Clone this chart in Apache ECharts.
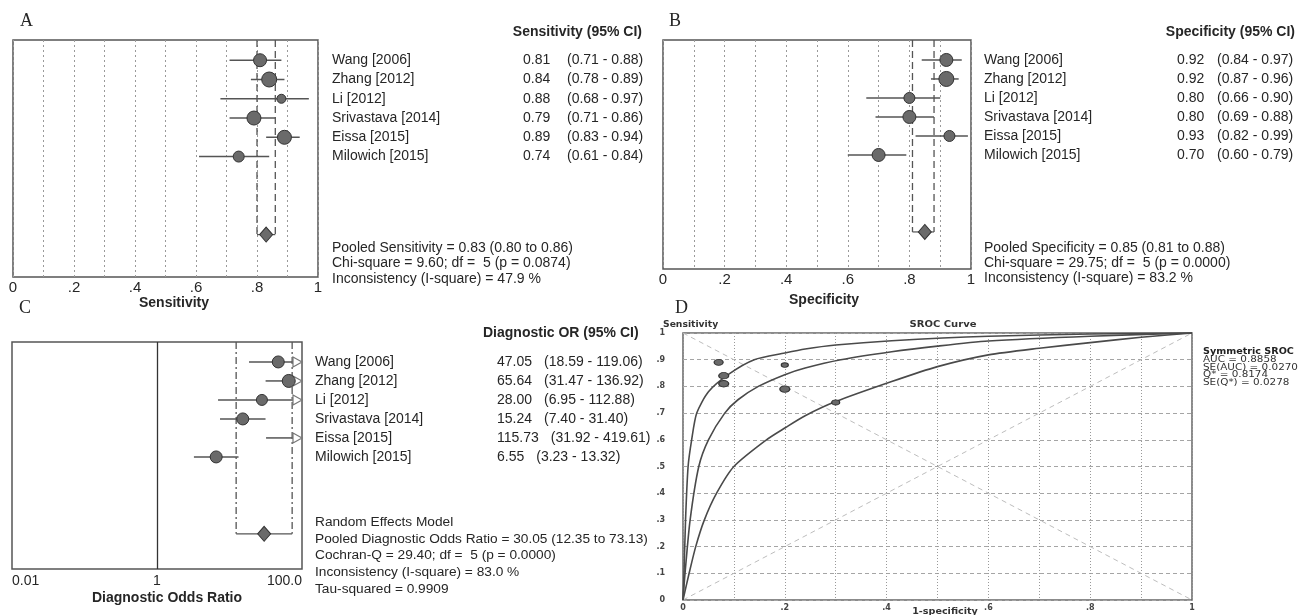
<!DOCTYPE html>
<html>
<head>
<meta charset="utf-8">
<script src="https://cdn.jsdelivr.net/npm/echarts@6/dist/echarts.min.js"></script>
<style>
  html, body { margin: 0; padding: 0; background: #fff; }
  #chart { width: 1307px; height: 615px; }
</style>
</head>
<body>
<div id="chart"></div>
<script>
// ---- data ----
const studies = ['Wang [2006]', 'Zhang [2012]', 'Li [2012]', 'Srivastava [2014]', 'Eissa [2015]', 'Milowich [2015]']

const sens = [0.81, 0.84, 0.88, 0.79, 0.89, 0.74]
const sensLo = [0.71, 0.78, 0.68, 0.71, 0.83, 0.61]
const sensHi = [0.88, 0.89, 0.97, 0.86, 0.94, 0.84]
const sensWeight = [13, 15, 9, 14, 14, 11]
const pooledSens = [0.83, 0.80, 0.86]

const spec = [0.92, 0.92, 0.80, 0.80, 0.93, 0.70]
const specLo = [0.84, 0.87, 0.66, 0.69, 0.82, 0.60]
const specHi = [0.97, 0.96, 0.90, 0.88, 0.99, 0.79]
const specWeight = [13, 15, 11, 13, 11, 13]
const pooledSpec = [0.85, 0.81, 0.88]

const dor = [47.05, 65.64, 28.00, 15.24, 115.73, 6.55]
const dorLo = [18.59, 31.47, 6.95, 7.40, 31.92, 3.23]
const dorHi = [119.06, 136.92, 112.88, 31.40, 419.61, 13.32]
const dorWeight = [12, 13, 11, 12, 12, 12]
const pooledDor = [30.05, 12.35, 73.13]

const srocWeight = [10, 10, 7, 10, 9, 8]

// SROC curves, points as [1-specificity, sensitivity]
const upperCurve = [[0, 0], [0.002, 0.1], [0.005, 0.3], [0.010, 0.5], [0.017, 0.6], [0.027, 0.7], [0.05, 0.78], [0.09, 0.846], [0.14, 0.9], [0.2, 0.925], [0.24, 0.94], [0.3, 0.955], [0.41, 0.971], [0.6, 0.988], [0.8, 0.996], [1, 1]]
const middleCurve = [[0, 0], [0.004, 0.1], [0.014, 0.3], [0.031, 0.5], [0.05, 0.6], [0.082, 0.7], [0.108, 0.75], [0.148, 0.8], [0.2, 0.844], [0.24, 0.869], [0.31, 0.9], [0.41, 0.93], [0.5, 0.951], [0.6, 0.97], [0.8, 0.988], [1, 1]]
const lowerCurve = [[0, 0], [0.012, 0.1], [0.025, 0.2], [0.042, 0.3], [0.066, 0.4], [0.1, 0.5], [0.164, 0.6], [0.2, 0.644], [0.24, 0.69], [0.3, 0.743], [0.41, 0.818], [0.5, 0.874], [0.6, 0.918], [0.7, 0.943], [0.8, 0.964], [0.9, 0.984], [1, 1]]
const diagDown = [[0, 1], [1, 0]]
const diagUp = [[0, 0], [1, 1]]

const sensStats = ['Pooled Sensitivity = 0.83 (0.80 to 0.86)', 'Chi-square = 9.60; df =  5 (p = 0.0874)', 'Inconsistency (I-square) = 47.9 %']
const specStats = ['Pooled Specificity = 0.85 (0.81 to 0.88)', 'Chi-square = 29.75; df =  5 (p = 0.0000)', 'Inconsistency (I-square) = 83.2 %']
const dorStats = ['Random Effects Model', 'Pooled Diagnostic Odds Ratio = 30.05 (12.35 to 73.13)', 'Cochran-Q = 29.40; df =  5 (p = 0.0000)', 'Inconsistency (I-square) = 83.0 %', 'Tau-squared = 0.9909']
const srocStats = ['AUC = 0.8858', 'SE(AUC) = 0.0270', 'Q* = 0.8174', 'SE(Q*) = 0.0278']

// ---- styling ----
const FONT = '"Liberation Sans", Arial, sans-serif'
const SMALL = '"DejaVu Sans", Verdana, sans-serif'
const TXT = '#262626'
const LINE = '#555'
const DOT = '#6a6a6a'

const rowPos = i => i + 1.05
const poolPos = 10.1

function tenths(v) {
  const t = Math.round(v * 10)
  if (t === 0) return '0'
  if (t === 10) return '1'
  return '.' + t
}
const evenTenths = v => (Math.round(v * 10) % 2 ? '' : tenths(v))

const chart = echarts.init(document.getElementById('chart'))

function propAxis(g) {
  return {
    gridIndex: g, type: 'value', min: 0, max: 1, interval: 0.1,
    axisLine: { show: false }, axisTick: { show: false },
    axisLabel: { formatter: evenTenths, fontSize: 15, color: TXT, fontFamily: FONT, margin: 3 },
    splitLine: { show: true, lineStyle: { type: [2, 3], color: '#9a9a9a', width: 1 } }
  }
}
function rowAxis(g, max) {
  return { gridIndex: g, type: 'value', inverse: true, min: 0, max: max, show: false }
}

function ciSeries(g, lo, hi, xMax) {
  return {
    type: 'custom', xAxisIndex: g, yAxisIndex: g, silent: true, z: 3,
    data: lo.map((l, i) => [l, hi[i], rowPos(i)]),
    encode: { x: [0, 1], y: 2 },
    renderItem(params, api) {
      const y = api.value(2)
      const h = api.value(1)
      const a = api.coord([api.value(0), y])
      const b = api.coord([Math.min(h, xMax), y])
      const over = h > xMax
      const kids = [{
        type: 'line',
        shape: { x1: a[0], y1: a[1], x2: over ? b[0] - 9 : b[0], y2: a[1] },
        style: { stroke: LINE, lineWidth: 1.5 }
      }]
      if (over) {
        kids.push({
          type: 'polygon',
          shape: { points: [[b[0] - 9, a[1] - 5], [b[0], a[1]], [b[0] - 9, a[1] + 5]] },
          style: { fill: '#fff', stroke: '#777', lineWidth: 1.2 }
        })
      }
      return { type: 'group', children: kids }
    }
  }
}

function pooledSeries(g, pooled, dash) {
  return {
    type: 'custom', xAxisIndex: g, yAxisIndex: g, silent: true, z: 2,
    data: [[pooled[1], pooled[2], poolPos]],
    encode: { x: [0, 1], y: 2 },
    renderItem(params, api) {
      const t1 = api.coord([api.value(0), 0])
      const b1 = api.coord([api.value(0), api.value(2)])
      const t2 = api.coord([api.value(1), 0])
      const b2 = api.coord([api.value(1), api.value(2)])
      const ds = { stroke: LINE, lineWidth: 1.3, lineDash: dash }
      return {
        type: 'group',
        children: [
          { type: 'line', shape: { x1: t1[0], y1: t1[1], x2: b1[0], y2: b1[1] }, style: ds },
          { type: 'line', shape: { x1: t2[0], y1: t2[1], x2: b2[0], y2: b2[1] }, style: ds },
          { type: 'line', shape: { x1: b1[0], y1: b1[1], x2: b2[0], y2: b2[1] }, style: { stroke: LINE, lineWidth: 1.2 } }
        ]
      }
    }
  }
}

function pointSeries(g, vals, weights, xMax) {
  return {
    type: 'scatter', xAxisIndex: g, yAxisIndex: g, silent: true, z: 4,
    data: vals.map((v, i) => [v, rowPos(i), weights[i]]).filter(d => d[0] <= xMax),
    symbol: 'circle',
    symbolSize: d => d[2],
    itemStyle: { color: DOT, borderColor: '#333', borderWidth: 1, opacity: 1 }
  }
}

function diamondSeries(g, pooled) {
  return {
    type: 'scatter', xAxisIndex: g, yAxisIndex: g, silent: true, z: 5,
    data: [[pooled[0], poolPos]],
    symbol: 'diamond', symbolSize: [13, 15],
    itemStyle: { color: DOT, borderColor: '#333', borderWidth: 1, opacity: 1 }
  }
}

const gridBox = { show: true, borderColor: '#555', borderWidth: 1.5, backgroundColor: 'transparent' }
const ellipse = 'path://M0,5A10,5,0,1,1,20,5A10,5,0,1,1,0,5Z'

const diamondC = diamondSeries(2, pooledDor)
diamondC.markLine = {
  silent: true, symbol: ['none', 'none'], label: { show: false },
  lineStyle: { color: '#333', type: 'solid', width: 1.3 },
  data: [{ xAxis: 1 }]
}

chart.setOption({
  animation: false,
  backgroundColor: '#fff',
  grid: [
    Object.assign({ left: 13, top: 40, width: 305, height: 237 }, gridBox),
    Object.assign({ left: 663, top: 40, width: 308, height: 229 }, gridBox),
    Object.assign({ left: 12, top: 342, width: 290, height: 227 }, gridBox),
    Object.assign({ left: 683, top: 333, width: 509, height: 267 }, gridBox, { borderColor: '#666' })
  ],
  xAxis: [
    propAxis(0),
    propAxis(1),
    {
      gridIndex: 2, type: 'log', logBase: 10, min: 0.01, max: 100,
      axisLine: { show: false }, axisTick: { show: false }, splitLine: { show: false },
      axisLabel: {
        fontSize: 14, color: TXT, fontFamily: FONT, margin: 5,
        alignMinLabel: 'left', alignMaxLabel: 'right',
        formatter: v => {
          const e = Math.round(Math.log10(v))
          return e === -2 ? '0.01' : e === 0 ? '1' : e === 2 ? '100.0' : ''
        }
      }
    },
    {
      gridIndex: 3, type: 'value', min: 0, max: 1, interval: 0.1,
      axisLine: { show: false }, axisTick: { show: false },
      axisLabel: { formatter: evenTenths, fontSize: 8, fontWeight: 'bold', color: '#444', fontFamily: SMALL, margin: 4 },
      splitLine: { show: true, lineStyle: { type: [1, 2], color: '#999', width: 1 } }
    }
  ],
  yAxis: [
    rowAxis(0, 12.3),
    rowAxis(1, 12.05),
    rowAxis(2, 11.95),
    {
      gridIndex: 3, type: 'value', min: 0, max: 1, interval: 0.1,
      axisLine: { show: false }, axisTick: { show: false },
      axisLabel: { formatter: tenths, fontSize: 8, fontWeight: 'bold', color: '#444', fontFamily: SMALL, margin: 18 },
      splitLine: { show: true, lineStyle: { type: [4, 3], color: '#a5a5a5', width: 1 } }
    }
  ],
  series: [
    pooledSeries(0, pooledSens, [7, 4]),
    ciSeries(0, sensLo, sensHi, 1),
    pointSeries(0, sens, sensWeight, 1),
    diamondSeries(0, pooledSens),

    pooledSeries(1, pooledSpec, [7, 4]),
    ciSeries(1, specLo, specHi, 1),
    pointSeries(1, spec, specWeight, 1),
    diamondSeries(1, pooledSpec),

    pooledSeries(2, pooledDor, [7, 3, 2, 3]),
    ciSeries(2, dorLo, dorHi, 100),
    pointSeries(2, dor, dorWeight, 100),
    diamondC,

    { type: 'line', xAxisIndex: 3, yAxisIndex: 3, data: diagDown, symbol: 'none', silent: true, lineStyle: { color: '#bdbdbd', type: [5, 4], width: 1 } },
    { type: 'line', xAxisIndex: 3, yAxisIndex: 3, data: diagUp, symbol: 'none', silent: true, lineStyle: { color: '#bdbdbd', type: [5, 4], width: 1 } },
    ...[upperCurve, middleCurve, lowerCurve].map(c => ({
      type: 'line', xAxisIndex: 3, yAxisIndex: 3, data: c, symbol: 'none', silent: true,
      smooth: 0.25, z: 3,
      lineStyle: { color: '#4a4a4a', width: 1.6 }
    })),
    {
      type: 'scatter', xAxisIndex: 3, yAxisIndex: 3, silent: true, z: 5,
      data: studies.map((s, i) => [1 - spec[i], sens[i], srocWeight[i]]),
      symbol: ellipse,
      symbolSize: d => [d[2], d[2] * 0.65],
      itemStyle: { color: DOT, borderColor: '#333', borderWidth: 1, opacity: 1 }
    }
  ]
})

// ---- text blocks ----
function txt(text, x, y, o) {
  o = o || {}
  const align = o.align || 'left'
  return {
    type: 'text', silent: true, z: 10,
    x: x, y: y, scaleX: o.scaleX || 1,
    style: {
      text: text, x: 0, y: 0,
      fill: o.fill || TXT,
      fontSize: o.size || 14,
      fontFamily: o.family || FONT,
      fontWeight: o.weight || 'normal',
      align: align, textAlign: align,
      verticalAlign: 'middle', textVerticalAlign: 'middle'
    }
  }
}
const rowPx = (g, i) => chart.convertToPixel({ gridIndex: g }, [g === 2 ? 1 : 0.5, rowPos(i)])[1]

const measure = document.createElement('canvas').getContext('2d')
measure.font = '14px ' + FONT

const g = []
// panel letters
g.push(txt('A', 20, 21, { size: 18, family: '"Liberation Serif", serif' }))
g.push(txt('B', 669, 21, { size: 18, family: '"Liberation Serif", serif' }))
g.push(txt('C', 19, 308, { size: 18, family: '"Liberation Serif", serif' }))
g.push(txt('D', 675, 308, { size: 18, family: '"Liberation Serif", serif' }))

// A
g.push(txt('Sensitivity (95% CI)', 642, 32, { align: 'right', weight: 'bold' }))
studies.forEach((s, i) => {
  const y = rowPx(0, i)
  g.push(txt(s, 332, y))
  g.push(txt(sens[i].toFixed(2), 523, y))
  g.push(txt('(' + sensLo[i].toFixed(2) + ' - ' + sensHi[i].toFixed(2) + ')', 567, y))
})
sensStats.forEach((s, i) => g.push(txt(s, 332, 248 + i * 15.5)))
g.push(txt('Sensitivity', 174, 303, { align: 'center', weight: 'bold' }))

// B
g.push(txt('Specificity (95% CI)', 1295, 32, { align: 'right', weight: 'bold' }))
studies.forEach((s, i) => {
  const y = rowPx(1, i)
  g.push(txt(s, 984, y))
  g.push(txt(spec[i].toFixed(2), 1177, y))
  g.push(txt('(' + specLo[i].toFixed(2) + ' - ' + specHi[i].toFixed(2) + ')', 1217, y))
})
specStats.forEach((s, i) => g.push(txt(s, 984, 248 + i * 15)))
g.push(txt('Specificity', 824, 300, { align: 'center', weight: 'bold' }))

// C
g.push(txt('Diagnostic OR (95% CI)', 483, 333, { weight: 'bold' }))
studies.forEach((s, i) => {
  const y = rowPx(2, i)
  const v = dor[i].toFixed(2)
  g.push(txt(s, 315, y))
  g.push(txt(v, 497, y))
  g.push(txt('(' + dorLo[i].toFixed(2) + ' - ' + dorHi[i].toFixed(2) + ')', 497 + measure.measureText(v).width + 12, y))
})
dorStats.forEach((s, i) => g.push(txt(s, 315, 522 + i * 16.8, { size: 13.7 })))
g.push(txt('Diagnostic Odds Ratio', 167, 598, { align: 'center', weight: 'bold' }))

// D
const dTxt = { size: 8, family: SMALL, weight: 'bold', fill: '#333', scaleX: 1.15 }
g.push(txt('Sensitivity', 663, 325, dTxt))
g.push(txt('SROC Curve', 943, 325, Object.assign({}, dTxt, { align: 'center', scaleX: 1.25 })))
g.push(txt('1-specificity', 945, 612, Object.assign({}, dTxt, { align: 'center', scaleX: 1.2 })))
g.push(txt('Symmetric SROC', 1203, 352, Object.assign({}, dTxt, { fill: '#222', scaleX: 1.2 })))
srocStats.forEach((s, i) => g.push(txt(s, 1203, 360 + i * 7.5, { size: 8, family: SMALL, fill: '#333', scaleX: 1.3 })))

chart.setOption({ graphic: g })
</script>
</body>
</html>
